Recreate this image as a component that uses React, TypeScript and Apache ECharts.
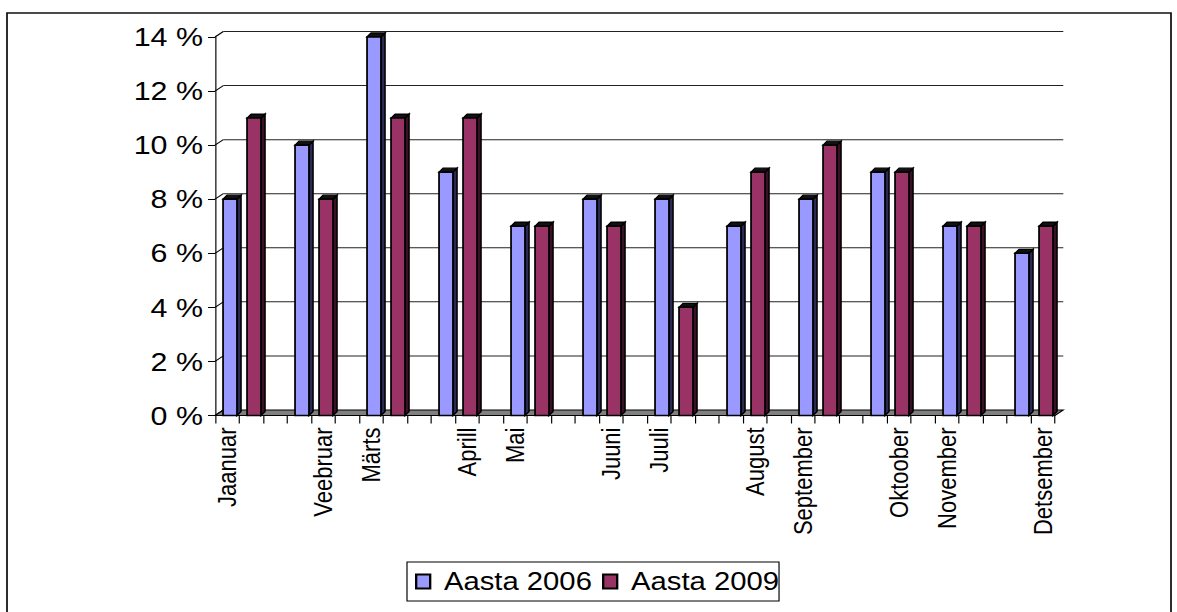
import React, { useEffect, useRef } from "react";
import * as echarts from "echarts";

// Months shown under the category axis and the slot each label sits on.
const months = [
  "Jaanuar", "Veebruar", "Märts", "Aprill", "Mai", "Juuni",
  "Juuli", "August", "September", "Oktoober", "November", "Detsember",
];
const labelSlots = [0, 4, 6, 10, 12, 16, 18, 22, 24, 28, 30, 34];
const slotCount = 35;

// Monthly shares, percent.
const aasta2006 = [8, 10, 14, 9, 7, 8, 8, 7, 8, 9, 7, 6];
const aasta2009 = [11, 8, 11, 11, 7, 7, 4, 9, 10, 9, 7, 7];
const seriesNames = ["Aasta 2006", "Aasta 2009"];

// Value axis ticks, percent.
const yTicks = [0, 2, 4, 6, 8, 10, 12, 14];

// The chart is laid out narrower and stretched horizontally by this factor.
const SX = 1.17;
const PAGE_W = 1177;
const PAGE_H = 612;
const X = (px: number) => px / SX;

const FONT = "'Liberation Sans', Arial, Helvetica, sans-serif";
const WALL_DX = X(8.3);
const WALL_DY = -5.5;

const colors = {
  a2006: { face: "#9999FF", side: "#2a2a55" },
  a2009: { face: "#993366", side: "#3a1026" },
};

function barRenderer(face: string, side: string) {
  return (params: any, api: any) => {
    const slot = api.value(0);
    const v = api.value(1);
    const top = api.coord([slot, v]);
    const base = api.coord([slot, 0]);
    const w = api.size([1, 0])[0];
    const fw = w * 0.58;
    const cx = top[0] + w * 0.125;
    const l = cx - fw / 2;
    const r = cx + fw / 2;
    const dx = w * 0.17;
    const dy = -4;
    const ty = top[1];
    const by = base[1];
    return {
      type: "group",
      children: [
        {
          type: "polygon",
          shape: { points: [[r, ty], [r + dx, ty + dy], [r + dx, by + dy], [r, by]] },
          style: { fill: side, stroke: "#000", lineWidth: 1.3 },
        },
        {
          type: "polygon",
          shape: { points: [[l, ty], [l + dx, ty + dy], [r + dx, ty + dy], [r, ty]] },
          style: { fill: "#111", stroke: "#000", lineWidth: 1.3 },
        },
        {
          type: "rect",
          shape: { x: l, y: ty, width: fw, height: by - ty },
          style: { fill: face, stroke: "#000", lineWidth: 1.5 },
        },
      ],
    };
  };
}

// Back wall grid lines, side-wall diagonals and the grey floor.
function frameRenderer(params: any, api: any) {
  const cs = params.coordSys;
  const v = api.value(1);
  const y = api.coord([0, v])[1];
  const x0 = cs.x;
  const x1 = cs.x + cs.width;
  const children: any[] = [
    {
      type: "line",
      shape: { x1: x0, y1: y, x2: x0 + WALL_DX, y2: y + WALL_DY },
      style: { stroke: "#000", lineWidth: 1 },
    },
  ];
  if (v === 0) {
    children.push({
      type: "polygon",
      shape: {
        points: [[x0, y], [x1, y], [x1 + WALL_DX, y + WALL_DY], [x0 + WALL_DX, y + WALL_DY]],
      },
      style: { fill: "#808080", stroke: "#000", lineWidth: 1 },
    });
  } else {
    children.push({
      type: "line",
      shape: { x1: x0 + WALL_DX, y1: y + WALL_DY, x2: x1 + WALL_DX, y2: y + WALL_DY },
      style: { stroke: "#222", lineWidth: 1 },
    });
  }
  return { type: "group", children };
}

export default function App() {
  const ref = useRef<HTMLDivElement>(null);

  useEffect(() => {
    if (!ref.current) return;
    const chart = echarts.init(ref.current, undefined, { renderer: "svg" });

    const slots = Array.from({ length: slotCount }, (_, i) => String(i));
    const labelAt: Record<number, string> = {};
    labelSlots.forEach((s, i) => (labelAt[s] = months[i]));

    const data2006 = aasta2006.map((v, m) => [m * 3, v]);
    const data2009 = aasta2009.map((v, m) => [m * 3 + 1, v]);

    const gridLeft = X(215);
    const gridRight = X(1055);

    chart.setOption({
      animation: false,
      textStyle: { fontFamily: FONT, color: "#000" },
      grid: {
        left: gridLeft,
        top: 37,
        width: gridRight - gridLeft,
        height: 378.5,
        containLabel: false,
      },
      xAxis: {
        type: "category",
        data: slots,
        boundaryGap: true,
        axisLine: { show: true, lineStyle: { color: "#000", width: 1 } },
        axisTick: { show: true, interval: 0, length: 8, lineStyle: { color: "#000", width: 1 } },
        axisLabel: {
          interval: 0,
          rotate: 90,
          margin: 12,
          fontSize: 22,
          fontFamily: FONT,
          color: "#000",
          formatter: (_: string, i: number) => labelAt[i] ?? "",
        },
        splitLine: { show: false },
      },
      yAxis: {
        type: "value",
        min: 0,
        max: 14,
        interval: 2,
        axisLine: { show: true, lineStyle: { color: "#000", width: 1 } },
        axisTick: { show: true, length: X(7), lineStyle: { color: "#000", width: 1 } },
        axisLabel: {
          formatter: "{value} %",
          fontSize: 26,
          fontFamily: FONT,
          color: "#000",
          margin: X(12),
        },
        splitLine: { show: false },
      },
      legend: {
        data: [
          { name: seriesNames[0], itemStyle: { color: colors.a2006.face, borderColor: "#000", borderWidth: 2 } },
          { name: seriesNames[1], itemStyle: { color: colors.a2009.face, borderColor: "#000", borderWidth: 2 } },
        ],
        icon: "rect",
        left: X(407),
        top: 562,
        itemWidth: X(14),
        itemHeight: 14,
        itemGap: X(10),
        borderColor: "#000",
        borderWidth: 1,
        borderRadius: 0,
        padding: [7, 0, 7, X(8)],
        textStyle: { fontSize: 25, fontFamily: FONT, color: "#000", padding: [0, 0, 0, X(8)] },
        selectedMode: false,
      },
      graphic: [
        {
          type: "rect",
          shape: { x: X(7), y: 13, width: X(1171) - X(7), height: 640 },
          style: { fill: "none", stroke: "#111", lineWidth: 1.5 },
          silent: true,
          z: 0,
        },
      ],
      series: [
        {
          type: "custom",
          name: "wall",
          z: 1,
          silent: true,
          renderItem: frameRenderer,
          data: yTicks.map((v) => [0, v]),
          encode: { x: 0, y: 1 },
        },
        {
          type: "custom",
          name: seriesNames[0],
          z: 3,
          itemStyle: { color: colors.a2006.face },
          renderItem: barRenderer(colors.a2006.face, colors.a2006.side),
          data: data2006,
          encode: { x: 0, y: 1 },
        },
        {
          type: "custom",
          name: seriesNames[1],
          z: 3,
          itemStyle: { color: colors.a2009.face },
          renderItem: barRenderer(colors.a2009.face, colors.a2009.side),
          data: data2009,
          encode: { x: 0, y: 1 },
        },
      ],
    });

    return () => chart.dispose();
  }, []);

  return (
    <div
      ref={ref}
      style={{
        position: "absolute",
        left: 0,
        top: 0,
        width: X(PAGE_W),
        height: PAGE_H,
        transform: `scaleX(${SX})`,
        transformOrigin: "0 0",
        background: "#fff",
      }}
    />
  );
}
